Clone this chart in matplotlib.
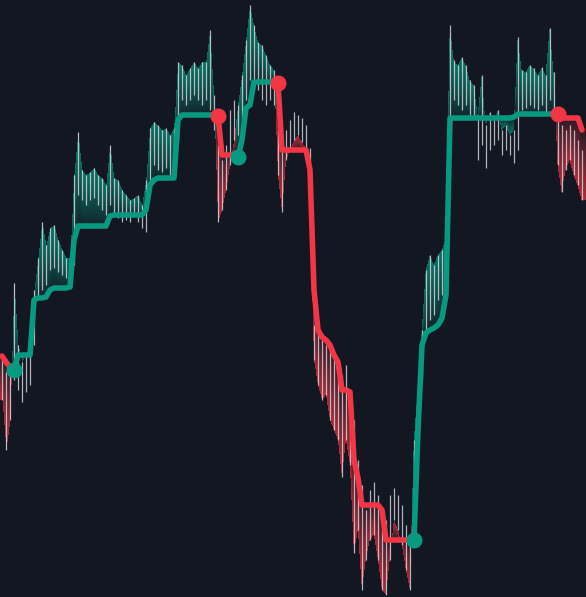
import matplotlib.pyplot as plt
import numpy as np

# price bars (high / low) and trailing stop, one value per bar
high = [242, 228, 235, 317, 255, 238, 245, 260, 310, 342, 378, 355, 372, 375, 360, 350, 342, 342,
        425, 468, 430, 425, 428, 432, 425, 422, 415, 455, 422, 420, 410, 405, 400, 402, 405, 395,
        420, 472, 478, 475, 470, 472, 465, 472, 538, 535, 525, 532, 538, 532, 538, 538, 570, 505,
        455, 440, 455, 490, 500, 495, 525, 560, 595, 575, 558, 555, 545, 535, 530, 470, 465, 470,
        480, 488, 485, 482, 475, 452, 275, 270, 260, 255, 250, 245, 235, 225, 235, 205, 180, 140,
        115, 90, 110, 118, 105, 70, 80, 105, 112, 105, 95, 75, 60, 160, 210, 270, 330, 345,
        335, 345, 350, 362, 575, 540, 535, 543, 535, 520, 515, 485, 525, 475, 488, 480, 490, 470,
        475, 465, 470, 563, 530, 528, 535, 532, 525, 533, 525, 572, 528, 480, 475, 470, 475, 470,
        460, 450]
low = [200, 150, 180, 220, 210, 198, 208, 215, 255, 300, 310, 315, 330, 332, 328, 325, 322, 320,
       335, 405, 400, 395, 400, 402, 395, 390, 385, 395, 385, 382, 378, 380, 378, 385, 378, 372,
       368, 410, 435, 430, 428, 432, 425, 430, 460, 500, 495, 500, 505, 500, 495, 500, 490, 470,
       378, 390, 410, 435, 460, 465, 480, 500, 520, 515, 510, 500, 495, 500, 495, 425, 388, 440,
       450, 460, 465, 458, 452, 400, 240, 215, 200, 205, 180, 170, 160, 123, 160, 135, 47, 70,
       10, 40, 60, 65, 40, 10, 5, 40, 80, 70, 55, 30, 10, 55, 160, 220, 265, 280,
       285, 300, 305, 310, 480, 500, 495, 490, 495, 485, 482, 440, 455, 432, 450, 455, 460, 445,
       450, 445, 437, 450, 490, 492, 495, 492, 490, 495, 488, 500, 488, 435, 408, 430, 440, 425,
       415, 400]
stop = [244, 238, 233, 230, 245, 245, 245, 245, 300, 302, 302, 303, 310, 312, 312, 312, 312, 313,
        360, 374, 374, 374, 374, 374, 374, 374, 374, 384, 385, 385, 385, 385, 385, 385, 385, 385,
        390, 415, 420, 422, 422, 422, 422, 422, 480, 485, 485, 485, 485, 485, 485, 485, 485, 485,
        484, 445, 445, 445, 445, 443, 460, 492, 495, 518, 518, 518, 518, 518, 518, 517, 450, 450,
        450, 450, 450, 450, 450, 430, 310, 270, 263, 260, 255, 245, 238, 210, 210, 208, 140, 122,
        95, 95, 95, 95, 95, 90, 60, 60, 60, 60, 60, 60, 60, 60, 170, 255, 267, 270,
        272, 275, 282, 305, 482, 482, 482, 482, 482, 482, 482, 482, 482, 482, 482, 482, 482, 482,
        482, 482, 483, 486, 486, 486, 486, 486, 486, 486, 486, 486, 486, 486, 482, 482, 482, 482,
        482, 470]
# bars where the trend flips (starts in a downtrend)
flips = [3, 54, 59, 69, 103, 139]

BG = "#131722"
UP = "#089981"
DOWN = "#f23645"

high = np.array(high, float)
low = np.array(low, float)
stop = np.array(stop, float)
n = len(stop)
bars = np.arange(n)

direction = np.full(n, -1)
for f in flips:
    direction[f:] *= -1

fig = plt.figure(figsize=(5.86, 5.97), dpi=100, facecolor=BG)
ax = fig.add_axes([0, 0, 1, 1])
ax.set_facecolor(BG)
x0, x1 = -0.5, n
y0, y1 = 3, 600
ax.set_xlim(x0, x1)
ax.set_ylim(y0, y1)
ax.axis("off")

# gradient fill between stop and price (bright at price, fading to the stop)
xs = np.linspace(x0, x1, 586)
ys = np.linspace(y0, y1, 597)
edge = np.where(direction > 0, high, low)
stop_i = np.interp(xs, bars, stop)
edge_i = np.interp(xs, bars, edge)
dir_i = direction[np.clip(np.round(xs).astype(int), 0, n - 1)]
Y = ys[:, None]
with np.errstate(divide="ignore", invalid="ignore"):
    t = (Y - stop_i[None, :]) / (edge_i - stop_i)[None, :]
alpha = np.where((t >= 0) & (t <= 1), 0.1 + np.nan_to_num(t) ** 0.9 * 0.6, 0)
up_rgb = np.array(plt.matplotlib.colors.to_rgb(UP))
dn_rgb = np.array(plt.matplotlib.colors.to_rgb(DOWN))
rgb = np.where((dir_i > 0)[None, :, None], up_rgb, dn_rgb)
img = np.dstack([np.broadcast_to(rgb, (len(ys), len(xs), 3)), alpha])
ax.imshow(img, extent=[x0, x1, y0, y1], origin="lower", aspect="auto",
          interpolation="bilinear", zorder=1)

# price wicks
ax.vlines(bars, low, high, colors="#d8dae0", linewidth=0.9, alpha=0.8, zorder=2)

# trailing stop, coloured by trend
bounds = [0] + flips + [n - 1]
for a, b in zip(bounds[:-1], bounds[1:]):
    col = UP if direction[a] > 0 else DOWN
    ax.plot(bars[a:b + 1], stop[a:b + 1], color=col, linewidth=4.0,
            solid_joinstyle="round", solid_capstyle="round", zorder=3)

for f in flips:
    ax.plot(f, stop[f], "o", color=UP if direction[f] > 0 else DOWN,
            markersize=10.5, zorder=4)

plt.savefig("out.png", dpi=100, facecolor=BG)
plt.close()
